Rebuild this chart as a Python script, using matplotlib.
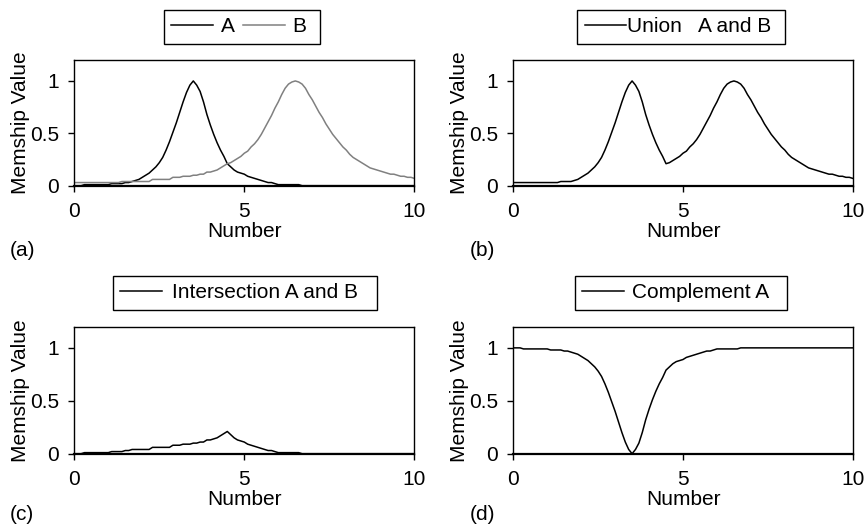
import numpy as np
import matplotlib
matplotlib.use('Agg')
from matplotlib import pyplot as plt

plt.rcParams['font.family'] = ['Liberation Sans', 'DejaVu Sans']

# x grid and the two fuzzy sets
number = np.round(np.arange(0, 10.01, 0.1), 1)

set_a = [0.00, 0.00, 0.00, 0.01, 0.01, 0.01, 0.01, 0.01, 0.01, 0.01,
         0.01, 0.02, 0.02, 0.02, 0.02, 0.03, 0.03, 0.04, 0.05, 0.06,
         0.08, 0.10, 0.12, 0.15, 0.18, 0.22, 0.27, 0.34, 0.42, 0.51,
         0.60, 0.70, 0.80, 0.89, 0.96, 1.00, 0.96, 0.90, 0.80, 0.68,
         0.58, 0.49, 0.41, 0.34, 0.28, 0.21, 0.18, 0.15, 0.13, 0.12,
         0.11, 0.09, 0.08, 0.07, 0.06, 0.05, 0.04, 0.03, 0.03, 0.02,
         0.01, 0.01, 0.01, 0.01, 0.01, 0.01, 0.01, 0.00, 0.00, 0.00,
         0.00, 0.00, 0.00, 0.00, 0.00, 0.00, 0.00, 0.00, 0.00, 0.00,
         0.00, 0.00, 0.00, 0.00, 0.00, 0.00, 0.00, 0.00, 0.00, 0.00,
         0.00, 0.00, 0.00, 0.00, 0.00, 0.00, 0.00, 0.00, 0.00, 0.00,
         0.00]

set_b = [0.03, 0.03, 0.03, 0.03, 0.03, 0.03, 0.03, 0.03, 0.03, 0.03,
         0.03, 0.03, 0.03, 0.03, 0.04, 0.04, 0.04, 0.04, 0.04, 0.04,
         0.04, 0.04, 0.04, 0.06, 0.06, 0.06, 0.06, 0.06, 0.06, 0.08,
         0.08, 0.08, 0.09, 0.09, 0.09, 0.10, 0.10, 0.11, 0.11, 0.13,
         0.13, 0.14, 0.15, 0.17, 0.19, 0.21, 0.22, 0.24, 0.26, 0.28,
         0.31, 0.33, 0.37, 0.40, 0.44, 0.49, 0.55, 0.61, 0.67, 0.74,
         0.80, 0.87, 0.93, 0.97, 0.99, 1.00, 0.99, 0.97, 0.93, 0.87,
         0.82, 0.76, 0.70, 0.65, 0.59, 0.54, 0.49, 0.45, 0.41, 0.37,
         0.34, 0.30, 0.27, 0.25, 0.23, 0.21, 0.19, 0.17, 0.16, 0.15,
         0.14, 0.13, 0.12, 0.11, 0.11, 0.10, 0.09, 0.09, 0.08, 0.08,
         0.07]

x_ticks = [0, 5, 10]
y_ticks = [0, 0.5, 1]
y_tick_labels = ['0', '0.5', '1']

a = np.array(set_a)
b = np.array(set_b)
union_ab = np.maximum(a, b)
inter_ab = np.minimum(a, b)
comp_a = 1 - a

W, H = 866, 528
FS = 15.0
fig = plt.figure(figsize=(W / 100, H / 100), dpi=100)


def make_ax(left, top, right, bottom):
    ax = fig.add_axes([left / W, 1 - bottom / H, (right - left) / W, (bottom - top) / H])
    ax.set_xlim(0, 10)
    ax.set_ylim(0, 1.2)
    ax.set_xticks(x_ticks)
    ax.set_xticklabels([str(t) for t in x_ticks])
    ax.set_yticks(y_ticks)
    ax.set_yticklabels(y_tick_labels)
    ax.tick_params(direction='out', length=4.3, width=1, labelsize=FS)
    ax.tick_params(axis='x', pad=7.5)
    ax.tick_params(axis='y', pad=6.5)
    for s in ax.spines.values():
        s.set_linewidth(1.0)
    ax.spines['bottom'].set_linewidth(1.6)
    ax.set_xlabel('Number', fontsize=FS, labelpad=0.5)
    ax.set_ylabel('Memship Value', fontsize=FS, labelpad=0)
    return ax


def add_legend(ax, cx, cy, textpad=0.5, ncol=1):
    leg = ax.legend(loc='center', bbox_to_anchor=(cx / W, 1 - cy / H),
                    bbox_transform=fig.transFigure, fontsize=FS, ncol=ncol,
                    fancybox=False, framealpha=1, edgecolor='black',
                    handlelength=2.0, handletextpad=textpad, columnspacing=0.4,
                    borderpad=0.35, borderaxespad=0)
    leg.get_frame().set_linewidth(1.0)
    return leg


# (a) sets A and B
ax1 = make_ax(74.3, 60, 414.3, 185.7)
ax1.plot(number, a, color='black', lw=1.1, label='A')
ax1.plot(number, b, color='#808080', lw=1.1, label='B ')
add_legend(ax1, 242, 27, textpad=0.4, ncol=2)

# (b) union
ax2 = make_ax(513.3, 60, 852.7, 185.7)
ax2.plot(number, union_ab, color='black', lw=1.1, label='Union   A and B ')
add_legend(ax2, 681, 27, textpad=0.05)

# (c) intersection
ax3 = make_ax(74.3, 326.7, 414.3, 453.7)
ax3.plot(number, inter_ab, color='black', lw=1.1, label='Intersection A and B  ')
add_legend(ax3, 245, 293, textpad=0.5)

# (d) complement
ax4 = make_ax(513.3, 326.7, 852.7, 453.7)
ax4.plot(number, comp_a, color='black', lw=1.1, label='Complement A  ')
add_legend(ax4, 681, 293, textpad=0.4)

for lbl, (px, py) in zip(['(a)', '(b)', '(c)', '(d)'],
                         [(10, 250), (470, 250), (10, 515), (470, 515)]):
    fig.text(px / W, 1 - py / H, lbl, fontsize=FS, va='center', ha='left')

fig.savefig('out.png', dpi=100)
